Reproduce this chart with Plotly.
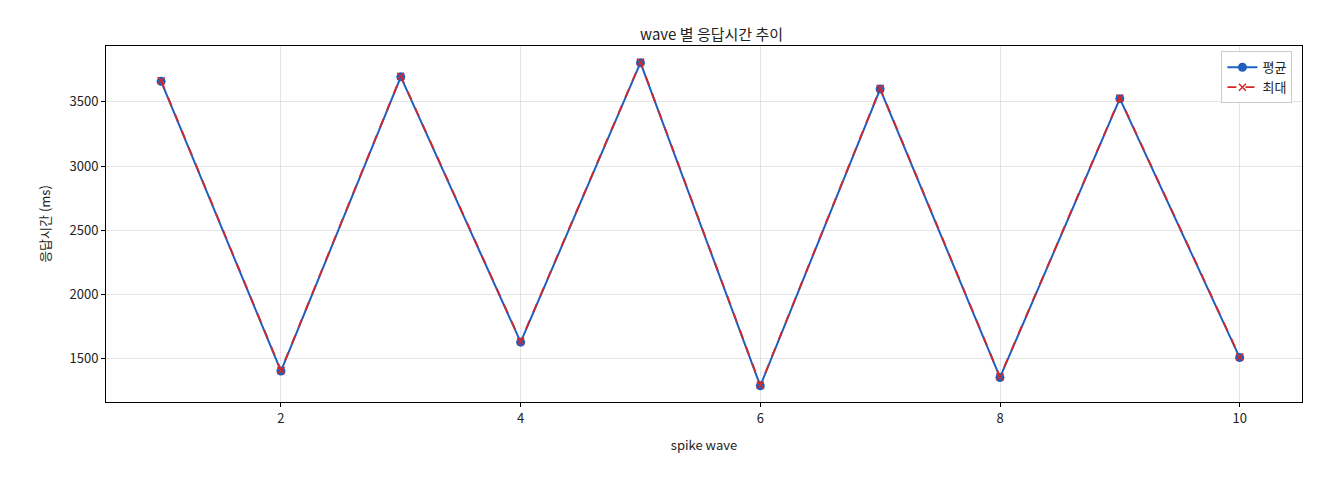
import plotly.graph_objects as go

waves = [1, 2, 3, 4, 5, 6, 7, 8, 9, 10]
avg_ms = [3660, 1405, 3695, 1630, 3805, 1290, 3600, 1355, 3525, 1510]
max_ms = [3665, 1410, 3700, 1635, 3810, 1295, 3605, 1360, 3530, 1515]

FONT = "Noto Sans CJK KR"

fig = go.Figure()
fig.add_trace(go.Scatter(
    x=waves, y=avg_ms, mode="lines+markers", name="평균",
    line=dict(color="#1f5fbf", width=2),
    marker=dict(symbol="circle", size=9, color="#1f5fbf"),
))
fig.add_trace(go.Scatter(
    x=waves, y=max_ms, mode="lines+markers", name="최대",
    line=dict(color="#d62728", width=1.8, dash="dash"),
    marker=dict(symbol="x-thin", size=7, color="#d62728",
                line=dict(width=1.5, color="#d62728")),
))

axis_style = dict(
    showline=True, linecolor="black", linewidth=1, mirror=True,
    showgrid=True, gridcolor="rgba(0,0,0,0.1)", zeroline=False,
    ticks="outside", ticklen=4, tickcolor="black",
    tickfont=dict(size=13, color="#222"),
)

fig.update_layout(
    width=1320, height=480,
    paper_bgcolor="white", plot_bgcolor="white",
    font=dict(family=FONT, color="#222"),
    title=dict(text="wave 별 응답시간 추이", x=0.533, xanchor="center",
               y=0.955, font=dict(size=15)),
    margin=dict(l=98, r=26, t=38, b=86),
    xaxis=dict(axis_style, range=[0.54, 10.52], dtick=2,
               title=dict(text="spike wave", font=dict(size=13))),
    yaxis=dict(axis_style, range=[1164, 3935], dtick=500,
               title=dict(text="응답시간 (ms)", font=dict(size=13))),
    legend=dict(x=0.992, y=0.985, xanchor="right", yanchor="top",
                bordercolor="#ccc", borderwidth=1, bgcolor="white",
                font=dict(size=13)),
)

fig.write_html("out.html")
